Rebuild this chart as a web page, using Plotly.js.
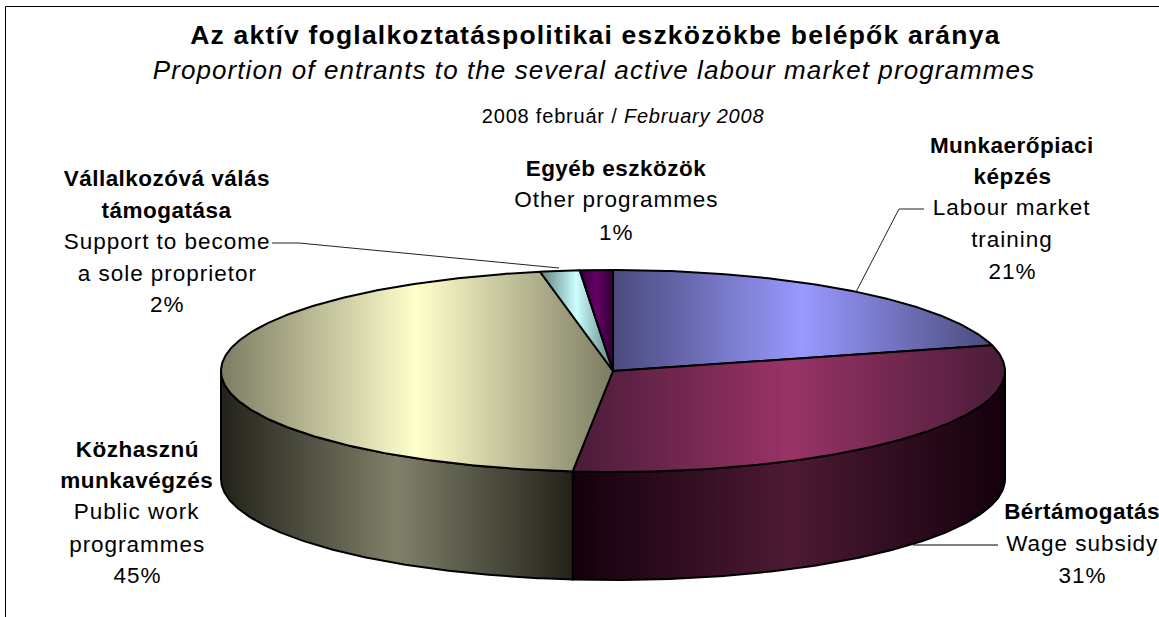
<!DOCTYPE html>
<html><head><meta charset="utf-8">
<script src="https://cdn.plot.ly/plotly-3.0.1.min.js"></script>
<style>html,body{margin:0;padding:0;background:#fff;overflow:hidden}#c{width:1159px;height:617px}</style>
</head><body><div id="c"></div>
<script>
// Data
const categories = ['Munkaerőpiaci képzés','Bértámogatás','Közhasznú munkavégzés','Vállalkozóvá válás támogatása','Egyéb eszközök'];
const shares = [20.9, 30.74, 45.38, 1.63, 1.35];
const percentLabels = ['21%','31%','45%','2%','1%'];
const huLines = [['Munkaerőpiaci','képzés'],['Bértámogatás'],['Közhasznú','munkavégzés'],['Vállalkozóvá válás','támogatása'],['Egyéb eszközök']];
const enLines = [['Labour market','training'],['Wage subsidy'],['Public work','programmes'],['Support to become','a sole proprietor'],['Other programmes']];
const topColors = [['#4a4a7c','#9999ff'],['#4a1c38','#993366'],['#7c7c63','#ffffcc'],['#5f8080','#ccffff'],['#330033','#660066']];
const sideColors = [['#222236','#4d4d80'],['#14000c','#4d1a33'],['#22221a','#80806a'],['#304040','#668080'],['#1a001a','#330033']];
// layout constants (pixels)
const W=1159,H=617,CX=613,CY=371,RX=392,RY=101,DEPTH=108;
const labelX=[1012,1082,137,167,616];
const labelY=[[145,176],[511],[449,480],[178,210],[168]];
const enY=[[207,239],[543],[511,544],[241,273],[199]];
const pctY=[271,575,575,304,232];
const leaderX=[[924,899,856],[272,299,559],[998,913]];
const leaderY=[[209,209,292],[243,243,268],[545,545]];

const px=t=>CX+RX*Math.sin(t), py=t=>CY-RY*Math.cos(t);
const traces=[];
const arc=(a,b)=>{const n=Math.max(2,Math.ceil((b-a)/0.01));const r=[];for(let i=0;i<=n;i++)r.push(a+(b-a)*i/n);return r;};
const total=shares.reduce((s,v)=>s+v,0);
let acc=0;const starts=shares.map(v=>{const a=acc;acc+=v/total*2*Math.PI;return a;});
const grad=c=>({type:'horizontal',colorscale:[[0,c[0]],[0.5,c[1]],[1,c[0]]]});
const outline={color:'#000',width:2};
// leader lines (under the pie)
leaderX.forEach((lx,i)=>traces.push({type:'scatter',mode:'lines',x:lx,y:leaderY[i],line:{color:i===2?'#555':'#222',width:i===2?1.3:1},hoverinfo:'skip',showlegend:false}));
// sides first (front half only)
shares.forEach((v,i)=>{
  const a=Math.max(starts[i],Math.PI/2),b=Math.min(starts[i]+v/total*2*Math.PI,3*Math.PI/2);
  if(b<=a)return;
  const ts=arc(a,b);
  const x=ts.map(px).concat(ts.slice().reverse().map(px));x.push(x[0]);
  const y=ts.map(py).concat(ts.slice().reverse().map(t=>py(t)+DEPTH));y.push(y[0]);
  traces.push({type:'scatter',mode:'lines',x,y,fill:'toself',fillgradient:grad(sideColors[i]),line:outline,hoverinfo:'skip',showlegend:false,name:categories[i]+' side'});
});
// top faces
shares.forEach((v,i)=>{
  const ts=arc(starts[i],starts[i]+v/total*2*Math.PI);
  const x=[CX].concat(ts.map(px),[CX]);
  const y=[CY].concat(ts.map(py),[CY]);
  traces.push({type:'scatter',mode:'lines',x,y,fill:'toself',fillgradient:grad(topColors[i]),line:outline,hoverinfo:'skip',showlegend:false,name:categories[i]});
});
const ann=[],spacing=[];
const T=(text,x,y,size,sp)=>{spacing.push(sp);ann.push({text,x,y,xref:'x',yref:'y',showarrow:false,xanchor:'center',yanchor:'middle',font:{family:'"Liberation Sans",Arial,sans-serif',size,color:'#000'}});};
T('<b>Az aktív foglalkoztatáspolitikai eszközökbe belépők aránya</b>',595,35,26.5,1.2);
T('<i>Proportion of entrants to the several active labour market programmes</i>',594,70,26,1.08);
T('2008 február / <i>February 2008</i>',623,116,20,0.8);
categories.forEach((c,i)=>{
  huLines[i].forEach((l,j)=>T('<b>'+l+'</b>',labelX[i],labelY[i][j],22.5,0.48));
  enLines[i].forEach((l,j)=>T(l,labelX[i],enY[i][j],22.5,0.97));
  T(percentLabels[i],labelX[i],pctY[i],22.5,0.97);
});
const layout={width:W,height:H,margin:{l:0,r:0,t:0,b:0},paper_bgcolor:'#fff',plot_bgcolor:'#fff',showlegend:false,
 xaxis:{range:[0,W],visible:false,fixedrange:true},yaxis:{range:[H,0],visible:false,fixedrange:true},annotations:ann,
 shapes:[{type:'line',xref:'x',yref:'y',x0:5.5,x1:5.5,y0:6.5,y1:617,line:{color:'#000',width:1}},{type:'line',xref:'x',yref:'y',x0:5.5,x1:1159,y0:6.5,y1:6.5,line:{color:'#000',width:1}}]};
Plotly.newPlot('c',traces,layout,{displayModeBar:false,staticPlot:true}).then(()=>{
  document.querySelectorAll('#c .annotation-text').forEach((el,i)=>{el.style.letterSpacing=spacing[i]+'px';});
});
</script></body></html>
